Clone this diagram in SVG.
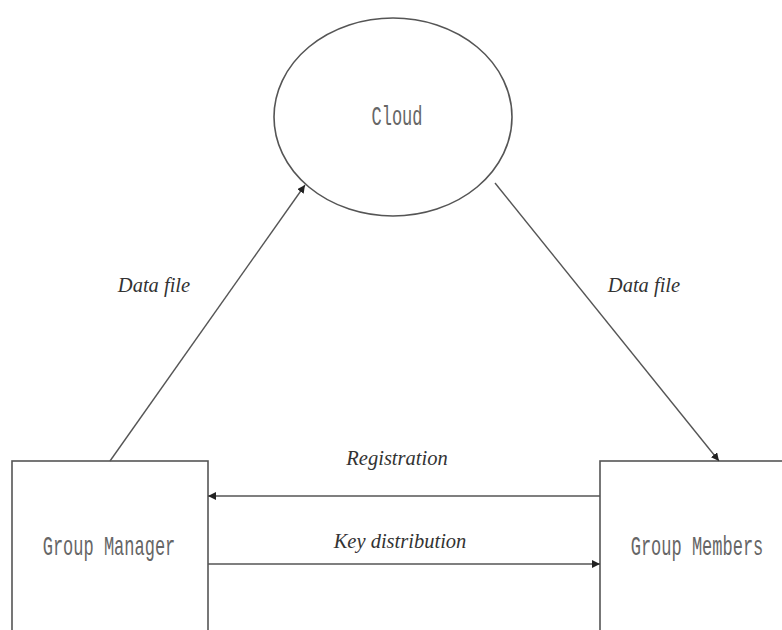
<svg xmlns="http://www.w3.org/2000/svg" width="782" height="630" viewBox="0 0 782 630">
<style>
.shape{fill:#fff;stroke:#555;stroke-width:1.6}
.conn{stroke:#555;stroke-width:1.4;fill:none}
.node{font-family:"Liberation Mono","DejaVu Sans Mono",monospace;font-size:17px;fill:#666;text-anchor:middle}
.lbl{font-family:"Liberation Serif","Times New Roman",serif;font-style:italic;font-size:20.5px;fill:#333;text-anchor:middle}
</style>
<defs>
<marker id="ah" viewBox="0 0 10 10" refX="10" refY="5" markerWidth="8" markerHeight="8" markerUnits="userSpaceOnUse" orient="auto">
<path d="M0,0 L10,5 L0,10 z" fill="#222"/>
</marker>
</defs>
<rect width="782" height="630" fill="#fff"/>
<g id="cloud">
<ellipse class="shape" cx="393" cy="117" rx="119" ry="99"/>
<text class="node" transform="translate(397,116) scale(1,1.6)" x="0" y="5.5">Cloud</text>
</g>
<g id="group-manager">
<rect class="shape" x="12" y="461" width="196" height="200"/>
<text class="node" transform="translate(109,546) scale(1,1.6)" x="0" y="5.5">Group Manager</text>
</g>
<g id="group-members">
<rect class="shape" x="600" y="461" width="200" height="200"/>
<text class="node" transform="translate(697,546) scale(1,1.6)" x="0" y="5.5">Group Members</text>
</g>
<g id="connectors">
<line class="conn" x1="110" y1="461" x2="305" y2="185" marker-end="url(#ah)"/>
<line class="conn" x1="495" y1="183" x2="719" y2="461" marker-end="url(#ah)"/>
<line class="conn" x1="600" y1="496" x2="208" y2="496" marker-end="url(#ah)"/>
<line class="conn" x1="208" y1="564" x2="600" y2="564" marker-end="url(#ah)"/>
</g>
<g id="labels">
<text class="lbl" x="154" y="292">Data file</text>
<text class="lbl" x="644" y="292">Data file</text>
<text class="lbl" x="397" y="465">Registration</text>
<text class="lbl" x="400" y="548">Key distribution</text>
</g>
</svg>
